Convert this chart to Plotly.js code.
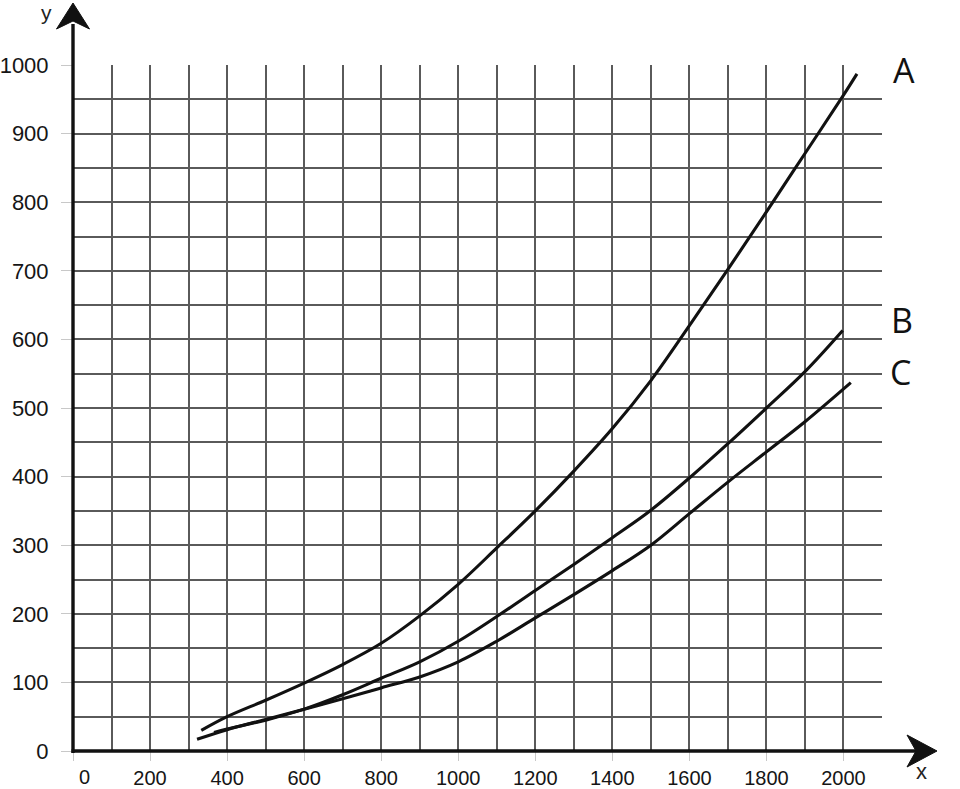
<!DOCTYPE html>
<html>
<head>
<meta charset="utf-8">
<script src="https://cdn.plot.ly/plotly-3.0.1.min.js"></script>
<style>
html,body{margin:0;padding:0;background:#fff;}
#chart{width:960px;height:789px;}
#chart .gridlayer path, #chart .minor-gridlayer path { shape-rendering: crispEdges; }
</style>
</head>
<body>
<div id="chart"></div>
<script>
// Curve A
const xA = [333, 400, 500, 600, 700, 800, 900, 1000, 1100, 1200, 1300, 1400, 1500, 1600, 1700, 1800, 1900, 2000, 2035];
const yA = [30, 50, 74, 99, 126, 157, 197, 243, 296, 350, 408, 470, 540, 620, 702, 786, 871, 956, 987];
// Curve B
const xB = [366, 400, 500, 600, 700, 800, 900, 1000, 1100, 1200, 1300, 1400, 1500, 1600, 1700, 1800, 1900, 1998];
const yB = [27, 32, 45, 61, 82, 106, 130, 160, 196, 234, 272, 311, 351, 398, 448, 500, 553, 613];
// Curve C
const xC = [322, 400, 500, 600, 700, 800, 900, 1000, 1100, 1200, 1300, 1400, 1500, 1600, 1700, 1800, 1900, 2019];
const yC = [17, 31, 46, 61, 76, 92, 108, 130, 160, 194, 228, 263, 300, 346, 392, 436, 480, 537];
const curveNames = ['A', 'B', 'C'];
const xTickVals = [0, 200, 400, 600, 800, 1000, 1200, 1400, 1600, 1800, 2000];
const xTickText = ['', '200', '400', '600', '800', '1000', '1200', '1400', '1600', '1800', '2000'];
const yTickVals = [0, 100, 200, 300, 400, 500, 600, 700, 800, 900, 1000];

const lineStyle = {color: '#111', width: 3.1, shape: 'spline', smoothing: 1};
const traces = [
  {x: xA, y: yA, mode: 'lines', line: lineStyle, name: curveNames[0], hoverinfo: 'skip'},
  {x: xB, y: yB, mode: 'lines', line: lineStyle, name: curveNames[1], hoverinfo: 'skip'},
  {x: xC, y: yC, mode: 'lines', line: lineStyle, name: curveNames[2], hoverinfo: 'skip'}
];

const L = 73, R = 78, T = 65, B = 38, W = 960, H = 789;
const pw = W - L - R, ph = H - T - B;
const px = v => (v - L) / pw;        // pixel x -> paper
const py = v => (H - B - v) / ph;    // pixel y -> paper

const gridCol = '#5a5a5a';
const yTickFont = {family: 'Liberation Sans, Arial, sans-serif', size: 22, color: '#151515'};
const xTickFont = {family: 'Liberation Sans, Arial, sans-serif', size: 20, color: '#151515'};
const labelFont = {family: 'Open Sans, sans-serif', size: 34, color: '#111'};

const layout = {
  width: W, height: H,
  margin: {l: L, r: R, t: T, b: B, pad: 0},
  paper_bgcolor: '#fff', plot_bgcolor: '#fff',
  showlegend: false,
  xaxis: {
    range: [0, 2100], tickmode: 'array', tickvals: xTickVals, ticktext: xTickText,
    showgrid: true, gridcolor: gridCol, gridwidth: 2,
    minor: {dtick: 100, tick0: 0, showgrid: true, gridcolor: gridCol, gridwidth: 2, ticks: ''},
    ticks: 'outside', ticklen: 9, tickcolor: '#c8c8c8', tickwidth: 1,
    ticklabelstandoff: 0,
    showline: false, zeroline: false, tickfont: xTickFont, fixedrange: true
  },
  yaxis: {
    range: [0, 1000], tickmode: 'array', tickvals: yTickVals,
    showgrid: true, gridcolor: gridCol, gridwidth: 2,
    minor: {dtick: 50, tick0: 0, showgrid: true, gridcolor: gridCol, gridwidth: 2, ticks: ''},
    ticks: 'outside', ticklen: 11, tickcolor: '#c8c8c8', tickwidth: 1,
    ticklabelstandoff: 8,
    showline: false, zeroline: false, tickfont: yTickFont, fixedrange: true
  },
  shapes: [
    // y axis stem
    {type: 'line', xref: 'paper', yref: 'paper', x0: 0, x1: 0, y0: py(753), y1: py(24), line: {color: '#111', width: 3.4}, layer: 'above'},
    // y arrow head
    {type: 'path', xref: 'paper', yref: 'paper',
     path: `M ${px(73)} ${py(3)} L ${px(89.5)} ${py(29)} L ${px(73)} ${py(21)} L ${px(56.5)} ${py(29)} Z`,
     fillcolor: '#111', line: {color: '#111', width: 1}, layer: 'above'},
    // x axis stem
    {type: 'line', xref: 'paper', yref: 'paper', x0: px(71.5), x1: px(920), y0: 0, y1: 0, line: {color: '#111', width: 3.4}, layer: 'above'},
    // x arrow head
    {type: 'path', xref: 'paper', yref: 'paper',
     path: `M ${px(937)} ${py(751)} L ${px(907)} ${py(735)} L ${px(916)} ${py(751)} L ${px(907)} ${py(767)} Z`,
     fillcolor: '#111', line: {color: '#111', width: 1}, layer: 'above'}
  ],
  annotations: [
    {xref: 'paper', yref: 'paper', x: px(84), y: py(777), text: '0', showarrow: false, font: xTickFont, xanchor: 'center', yanchor: 'middle'},
    {xref: 'paper', yref: 'paper', x: px(46), y: py(12), text: 'y', showarrow: false, font: {family: 'Liberation Sans, Arial, sans-serif', size: 21, color: '#222'}, xanchor: 'center', yanchor: 'middle'},
    {xref: 'paper', yref: 'paper', x: px(922), y: py(771), text: 'x', showarrow: false, font: {family: 'Liberation Sans, Arial, sans-serif', size: 22, color: '#222'}, xanchor: 'center', yanchor: 'middle'},
    {xref: 'paper', yref: 'paper', x: px(904), y: py(70), text: curveNames[0], showarrow: false, font: labelFont, xanchor: 'center', yanchor: 'middle'},
    {xref: 'paper', yref: 'paper', x: px(902), y: py(320), text: curveNames[1], showarrow: false, font: labelFont, xanchor: 'center', yanchor: 'middle'},
    {xref: 'paper', yref: 'paper', x: px(900), y: py(372), text: curveNames[2], showarrow: false, font: labelFont, xanchor: 'center', yanchor: 'middle'}
  ]
};

Plotly.newPlot('chart', traces, layout, {displayModeBar: false, staticPlot: true});
</script>
</body>
</html>
